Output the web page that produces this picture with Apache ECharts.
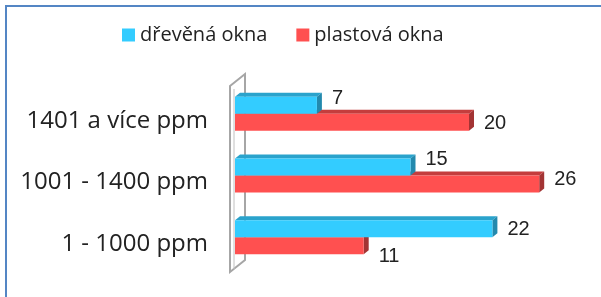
<!doctype html>
<html>
<head>
    <meta charset="utf-8" />
    <script src="https://cdn.jsdelivr.net/npm/echarts@6/dist/echarts.min.js"></script>
    <style>
        html, body { margin: 0; padding: 0; background: #fff; }
        #chart { width: 601px; height: 297px; }
    </style>
</head>
<body>
<div id="chart"></div>
<script>
// data, top to bottom
var categories = ['1401 a více ppm', '1001 - 1400 ppm', '1 - 1000 ppm'];
var woodValues = [7, 15, 22];
var plasticValues = [20, 26, 11];
var seriesNames = ['dřevěná okna', 'plastová okna'];

// vertical nudges for the value labels (px from the category centre)
var woodLabelDy = [-15, -16, -8];
var plasticLabelDy = [10, 4, 19];

var BAR_H = 17, DX = 5, DY = 4;

function barRenderer(values, upper, colors, labelDy) {
    return function (params, api) {
        var i = params.dataIndex;
        var p0 = api.coord([0, i]);
        var p1 = api.coord([values[i], i]);
        var x0 = p0[0], x1 = p1[0], c = p0[1];
        var y0 = upper ? c - BAR_H : c;
        var y1 = y0 + BAR_H;
        return {
            type: 'group',
            children: [{
                type: 'polygon',
                shape: { points: [[x0, y0], [x0 + DX, y0 - DY], [x1 + DX, y0 - DY], [x1, y0]] },
                style: { fill: colors[1] }
            }, {
                type: 'polygon',
                shape: { points: [[x1, y0], [x1 + DX, y0 - DY], [x1 + DX, y1 - DY], [x1, y1]] },
                style: { fill: colors[2] }
            }, {
                type: 'rect',
                shape: { x: x0, y: y0, width: x1 - x0, height: BAR_H },
                style: { fill: colors[0] }
            }, {
                type: 'text',
                style: {
                    text: String(values[i]),
                    x: x1 + 15,
                    y: c + labelDy[i],
                    verticalAlign: 'middle',
                    font: '20px "Liberation Sans", Arial, sans-serif',
                    fill: '#222'
                }
            }]
        };
    };
}

function wallRenderer(params, api) {
    var band = api.size([0, 1])[1];
    var top = api.coord([0, 0])[1] - band / 2;
    var bottom = api.coord([0, categories.length - 1])[1] + band / 2;
    var x = api.coord([0, 0])[0];
    return {
        type: 'group',
        children: [{
            type: 'polygon',
            shape: { points: [[x - 5, top + 3], [x + 10, top - 9], [x + 10, bottom - 8], [x - 5, bottom + 4]] },
            style: { fill: '#fff', stroke: '#a6a6a6', lineWidth: 2 }
        }, {
            type: 'line',
            shape: { x1: x - 1, y1: top + 6, x2: x - 1, y2: bottom + 1 },
            style: { stroke: '#c0c0c0', lineWidth: 1 }
        }]
    };
}

var chart = echarts.init(document.getElementById('chart'));
chart.setOption({
    animation: false,
    graphic: [{
        type: 'rect',
        shape: { x: 6, y: 6, width: 700, height: 400 },
        style: { fill: 'none', stroke: '#5486c4', lineWidth: 2 },
        silent: true
    }],
    legend: {
        left: 117,
        top: 20,
        data: seriesNames,
        icon: 'rect',
        itemWidth: 13,
        itemHeight: 13,
        itemGap: 29,
        textStyle: { fontFamily: 'Open Sans', fontSize: 20, color: '#222' }
    },
    grid: { left: 235, right: 15, top: 83, bottom: 29 },
    xAxis: { type: 'value', min: 0, max: 30, show: false },
    yAxis: {
        type: 'category',
        inverse: true,
        data: categories,
        axisLine: { show: false },
        axisTick: { show: false },
        axisLabel: {
            margin: 27,
            verticalAlign: 'top',
            lineHeight: 14,
            fontFamily: 'Open Sans',
            fontSize: 24,
            color: '#222'
        }
    },
    series: [{
        type: 'custom',
        name: 'wall',
        silent: true,
        z: 1,
        data: [0],
        renderItem: wallRenderer
    }, {
        type: 'custom',
        name: seriesNames[1],
        z: 2,
        itemStyle: { color: '#ff5050' },
        data: plasticValues.map(function (v, i) { return [v, i]; }),
        encode: { x: 0, y: 1 },
        renderItem: barRenderer(plasticValues, false, ['#ff5050', '#c43d3d', '#a33434'], plasticLabelDy)
    }, {
        type: 'custom',
        name: seriesNames[0],
        z: 3,
        itemStyle: { color: '#33ccff' },
        data: woodValues.map(function (v, i) { return [v, i]; }),
        encode: { x: 0, y: 1 },
        renderItem: barRenderer(woodValues, true, ['#33ccff', '#2aa3cc', '#2389ad'], woodLabelDy)
    }]
});
</script>
</body>
</html>
